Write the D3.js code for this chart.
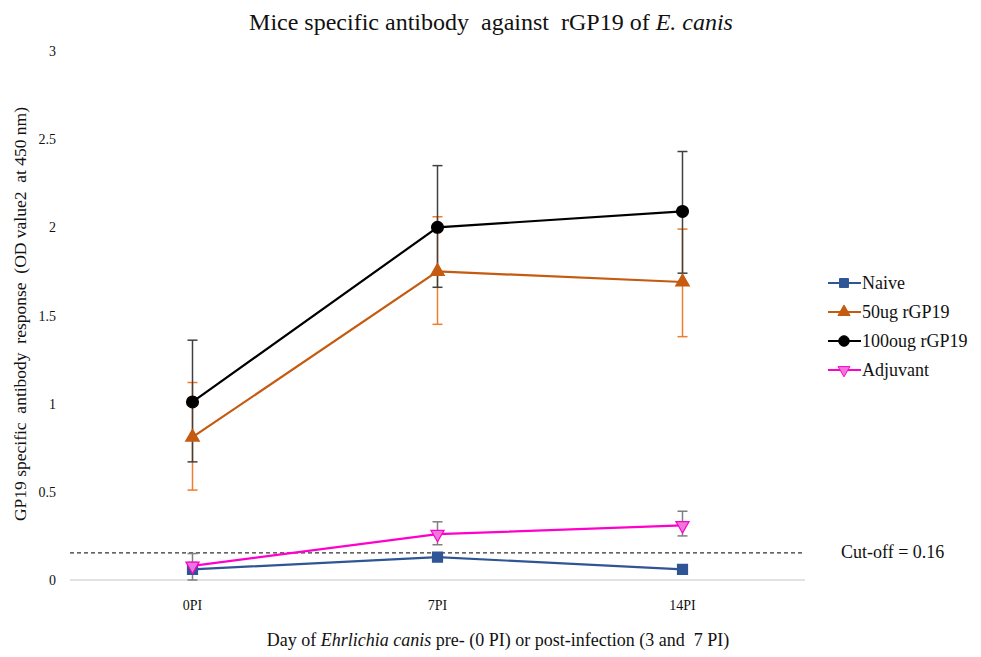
<!DOCTYPE html>
<html>
<head>
<meta charset="utf-8">
<script src="https://cdn.jsdelivr.net/npm/d3@7"></script>
<style>
body { margin: 0; background: #fff; }
text { font-family: "Liberation Serif", "Times New Roman", serif; white-space: pre; fill: #111; }
</style>
</head>
<body>
<div id="graph"></div>
<script>
const width = 981, height = 657;
const days = ["0PI", "7PI", "14PI"];
const yTicks = [0, 0.5, 1, 1.5, 2, 2.5, 3];
const names = ["Naive", "50ug rGP19", "100oug rGP19", "Adjuvant"];
const naive = [0.06, 0.13, 0.06];
const naiveLo = [0.0, 0.11, 0.05];
const naiveHi = [0.15, 0.15, 0.07];
const ug50 = [0.81, 1.75, 1.69];
const ug50Lo = [0.51, 1.45, 1.38];
const ug50Hi = [1.12, 2.06, 1.99];
const ug100 = [1.01, 2.0, 2.09];
const ug100Lo = [0.67, 1.66, 1.74];
const ug100Hi = [1.36, 2.35, 2.43];
const adjuvant = [0.08, 0.26, 0.31];
const adjLo = [0.05, 0.2, 0.25];
const adjHi = [0.1, 0.33, 0.39];
const cutoff = 0.16;

var series = [
	{name: names[0], v: naive, lo: naiveLo, hi: naiveHi, color: "#2f5597", fill: "#2f5597", err: "#7f7f7f", sym: d3.symbolSquare, size: 100, rot: 0},
	{name: names[1], v: ug50, lo: ug50Lo, hi: ug50Hi, color: "#c55a11", fill: "#c55a11", err: "#ed7d31", sym: d3.symbolTriangle, size: 80, rot: 0},
	{name: names[2], v: ug100, lo: ug100Lo, hi: ug100Hi, color: "#000000", fill: "#000000", err: "#404040", sym: d3.symbolCircle, size: 110, rot: 0},
	{name: names[3], v: adjuvant, lo: adjLo, hi: adjHi, color: "#ff00cc", fill: "#ee77dd", err: "#7f7f7f", sym: d3.symbolTriangle, size: 75, rot: 180}
];

var svg = d3.select("div#graph").append("svg")
	.attr("width", width)
	.attr("height", height)

var x = d3.scalePoint().domain(days).range([70, 805]).padding(0.5)
var y = d3.scaleLinear().domain([0, 3]).range([580, 51])

// title
var title = svg.append("text")
	.attr("x", 491).attr("y", 30)
	.attr("text-anchor", "middle")
	.style("font-size", "24px")
title.append("tspan").text("Mice specific antibody  against  rGP19 of ")
title.append("tspan").style("font-style", "italic").text("E. canis")

// y ticks labels
svg.selectAll("text.ytick").data(yTicks).enter().append("text")
	.attr("class", "ytick")
	.attr("x", 56).attr("y", d => y(d) + 5)
	.attr("text-anchor", "end")
	.style("font-size", "14px")
	.text(d => d)

// baseline
svg.append("line")
	.attr("x1", 70).attr("x2", 805)
	.attr("y1", y(0)).attr("y2", y(0))
	.style("stroke", "#d9d9d9").style("stroke-width", 1.5)

// x tick labels
svg.selectAll("text.xtick").data(days).enter().append("text")
	.attr("class", "xtick")
	.attr("x", d => x(d)).attr("y", 610)
	.attr("text-anchor", "middle")
	.style("font-size", "14px")
	.text(d => d)

// axis titles
svg.append("text")
	.attr("transform", "translate(26 " + 314 + ") rotate(-90)")
	.attr("text-anchor", "middle")
	.style("font-size", "17.5px")
	.text("GP19 specific  antibody  response  (OD value2  at 450 nm)")

var xt = svg.append("text")
	.attr("x", 498).attr("y", 646)
	.attr("text-anchor", "middle")
	.style("font-size", "18px")
xt.append("tspan").text("Day of ")
xt.append("tspan").style("font-style", "italic").text("Ehrlichia canis")
xt.append("tspan").text(" pre- (0 PI) or post-infection (3 and  7 PI)")

// cut-off
svg.append("line")
	.attr("x1", 70).attr("x2", 805)
	.attr("y1", y(cutoff) + 1).attr("y2", y(cutoff) + 1)
	.style("stroke", "#333").style("stroke-width", 1.3)
	.style("stroke-dasharray", "4,3")
svg.append("text")
	.attr("x", 841).attr("y", y(cutoff) + 6)
	.style("font-size", "18px")
	.text("Cut-off = " + cutoff)

// error bars
series.forEach(s => {
	var g = svg.append("g")
	days.forEach((d, i) => {
		g.append("line")
			.attr("x1", x(d)).attr("x2", x(d))
			.attr("y1", y(s.lo[i])).attr("y2", y(s.hi[i]))
			.style("stroke", s.err).style("stroke-width", 1.5)
		;[s.lo[i], s.hi[i]].forEach(e => {
			g.append("line")
				.attr("x1", x(d) - 5).attr("x2", x(d) + 5)
				.attr("y1", y(e)).attr("y2", y(e))
				.style("stroke", s.err).style("stroke-width", 1.5)
		})
	})
})

// lines and markers
var line = d3.line().x((d, i) => x(days[i])).y(d => y(d))
series.forEach(s => {
	svg.append("path")
		.attr("d", line(s.v))
		.style("fill", "none")
		.style("stroke", s.color)
		.style("stroke-width", 2.2)
	svg.selectAll(null).data(s.v).enter().append("path")
		.attr("d", d3.symbol().type(s.sym).size(s.size))
		.attr("transform", (d, i) => "translate(" + x(days[i]) + " " + y(d) + ") rotate(" + s.rot + ")")
		.style("fill", s.fill)
		.style("stroke", s.color)
		.style("stroke-width", 1.2)
})

// legend
var leg = svg.selectAll("g.leg").data(series).enter().append("g")
	.attr("class", "leg")
	.attr("transform", (d, i) => "translate(828 " + [283, 312, 341, 370][i] + ")")
leg.append("line")
	.attr("x1", 0).attr("x2", 33)
	.style("stroke", d => d.color).style("stroke-width", 2)
leg.append("path")
	.attr("d", d => d3.symbol().type(d.sym).size(d.size * 0.8)())
	.attr("transform", d => "translate(16 0) rotate(" + d.rot + ")")
	.style("fill", d => d.fill)
	.style("stroke", d => d.color)
leg.append("text")
	.attr("x", 34).attr("y", 6)
	.style("font-size", "18px")
	.text(d => d.name)
</script>
</body>
</html>
